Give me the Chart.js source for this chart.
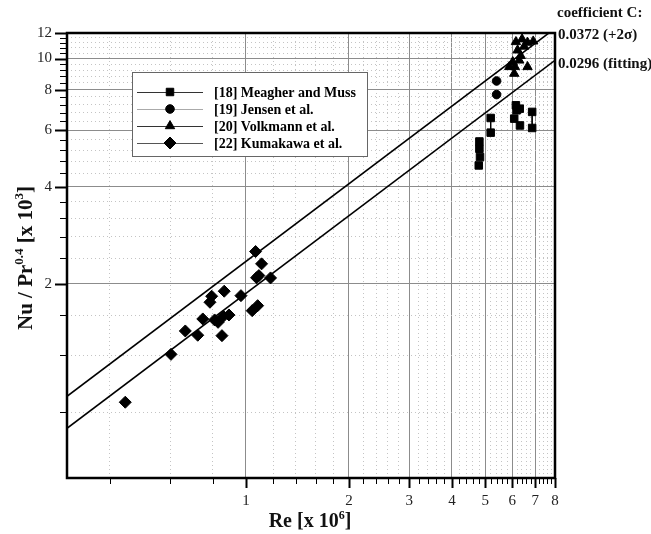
<!DOCTYPE html>
<html>
<head>
<meta charset="utf-8">
<script src="https://cdn.jsdelivr.net/npm/chart.js@4.4.0/dist/chart.umd.min.js"></script>
<style>
  html, body { margin: 0; padding: 0; background: #fff; }
  #wrap { width: 651px; height: 534px; }
</style>
</head>
<body>
<div id="wrap"><canvas id="chart" width="651" height="534"></canvas></div>
<script>
// values: Re in 10^6, Nu/Pr^0.4 in 10^3
const meagherRe = [5.19, 5.19, 4.81, 4.81, 4.83, 4.79, 6.15, 6.18, 6.08, 6.32, 6.86, 6.86, 6.31];
const meagherNu = [6.54, 5.89, 5.53, 5.25, 4.95, 4.66, 7.16, 6.91, 6.51, 6.20, 6.83, 6.09, 6.99];
const jensenRe = [5.40, 5.40];
const jensenNu = [8.52, 7.73];
const volkmannRe = [6.15, 6.41, 6.65, 6.91, 6.22, 6.02, 6.11, 6.08, 6.65, 6.29, 6.50, 5.88, 6.35];
const volkmannNu = [11.26, 11.48, 11.21, 11.31, 10.61, 9.76, 9.42, 8.98, 9.42, 9.87, 10.9, 9.42, 10.2];
const kumakawaRe = [0.444, 0.604, 0.665, 0.723, 0.748, 0.785, 0.794, 0.810, 0.851, 0.864, 0.859, 0.892,
                    0.967, 1.043, 1.082, 1.067, 1.111, 1.091, 1.180, 1.074, 0.829];
const kumakawaNu = [0.859, 1.209, 1.429, 1.386, 1.557, 1.754, 1.831, 1.546, 1.382, 1.898, 1.587, 1.602,
                    1.839, 1.652, 1.712, 2.520, 2.308, 2.122, 2.087, 2.090, 1.520];

// thin connectors between paired squares (null breaks the line)
const connRe = [5.19, 5.19, null, 6.86, 6.86];
const connNu = [6.54, 5.89, null, 6.83, 6.09];

// correlation lines Nu/Pr^0.4 = C Re^0.8, end points
const fitRe = [0.3, 8];
const fitHighNu = [0.896, 12.4];   // C = 0.0372 (+2 sigma)
const fitLowNu = [0.713, 9.87];    // C = 0.0296 (fitting)

const xMajor = [1, 2, 3, 4, 5, 6, 7, 8];
const xMinor = [0.4, 0.6, 0.8, 1.2, 1.4, 1.6, 1.8, 2.2, 2.4, 2.6, 2.8, 3.2, 3.4, 3.6, 3.8,
                4.2, 4.4, 4.6, 4.8, 5.2, 5.4, 5.6, 5.8, 6.2, 6.4, 6.6, 6.8, 7.2, 7.4, 7.6, 7.8];
const yMajor = [2, 4, 6, 8, 10, 12];
const yMinor = [0.8, 1.2, 1.6, 2.4, 2.8, 3.2, 3.6, 4.4, 4.8, 5.2, 5.6, 6.4, 6.8, 7.2, 7.6,
                8.4, 8.8, 9.2, 9.6, 10.4, 10.8, 11.2, 11.6];

const legendLabels = ["[18] Meagher and Muss", "[19] Jensen et al.", "[20] Volkmann et al.", "[22] Kumakawa et al."];

const SERIF = "'Liberation Serif', 'Times New Roman', serif";
Chart.defaults.font.family = SERIF;
Chart.defaults.color = "#222";

function pts(xs, ys) {
  return xs.map((x, i) => (x === null ? { x: NaN, y: NaN } : { x: x, y: ys[i] }));
}

function markerSet(label, xs, ys, style, radius) {
  return {
    label: label,
    data: pts(xs, ys),
    showLine: false,
    pointStyle: style,
    pointRadius: radius,
    pointHoverRadius: radius,
    pointBackgroundColor: "#000",
    pointBorderColor: "#000",
    pointBorderWidth: 1
  };
}

function lineSet(label, xs, ys, width) {
  return {
    label: label,
    data: pts(xs, ys),
    showLine: true,
    spanGaps: false,
    borderColor: "#000",
    borderWidth: width,
    pointRadius: 0,
    fill: false
  };
}

const datasets = [
  lineSet("C = 0.0372", fitRe, fitHighNu, 1.6),
  lineSet("C = 0.0296", fitRe, fitLowNu, 1.6),
  lineSet("pairs", connRe, connNu, 1),
  markerSet(legendLabels[0], meagherRe, meagherNu, "rect", 5.3),
  markerSet(legendLabels[1], jensenRe, jensenNu, "circle", 4.3),
  markerSet(legendLabels[2], volkmannRe, volkmannNu, "triangle", 5.4),
  markerSet(legendLabels[3], kumakawaRe, kumakawaNu, "rectRot", 6)
];

function setTicks(majors, minors) {
  return function(scale) {
    scale.ticks = majors.concat(minors).sort((a, b) => a - b).map(v => ({ value: v }));
  };
}

// draw text with superscript pieces, optionally rotated
function drawRich(ctx, parts, cx, cy, angle, size) {
  const supSize = Math.round(size * 0.6);
  ctx.save();
  ctx.translate(cx, cy);
  ctx.rotate(angle);
  ctx.textBaseline = "alphabetic";
  ctx.textAlign = "left";
  let total = 0;
  parts.forEach(p => {
    ctx.font = "bold " + (p.sup ? supSize : size) + "px " + SERIF;
    p.w = ctx.measureText(p.t).width;
    total += p.w;
  });
  let x = -total / 2;
  parts.forEach(p => {
    ctx.font = "bold " + (p.sup ? supSize : size) + "px " + SERIF;
    ctx.fillText(p.t, x, p.sup ? 7 - size * 0.42 : 7);
    x += p.w;
  });
  ctx.restore();
}

const decorPlugin = {
  id: "decor",
  afterDraw(chart) {
    const ctx = chart.ctx;
    const a = chart.chartArea;
    const xs = chart.scales.x, ys = chart.scales.y;
    ctx.save();
    ctx.strokeStyle = "#000";

    // tick marks
    xs.ticks.forEach(t => {
      const px = Math.round(xs.getPixelForValue(t.value)) + 0.5;
      const major = xMajor.includes(t.value);
      ctx.lineWidth = major ? 2 : 1;
      ctx.beginPath();
      ctx.moveTo(px, a.bottom);
      ctx.lineTo(px, a.bottom + (major ? 10 : 6));
      ctx.stroke();
    });
    ys.ticks.forEach(t => {
      const py = Math.round(ys.getPixelForValue(t.value)) + 0.5;
      const major = yMajor.includes(t.value);
      ctx.lineWidth = major ? 2 : 1;
      ctx.beginPath();
      ctx.moveTo(a.left, py);
      ctx.lineTo(a.left - (major ? 12 : 7), py);
      ctx.stroke();
    });

    // frame
    ctx.lineWidth = 2.5;
    ctx.strokeRect(a.left, a.top, a.right - a.left, a.bottom - a.top);

    // legend box
    ctx.fillStyle = "#fff";
    ctx.fillRect(132, 72, 235, 84);
    ctx.lineWidth = 1;
    ctx.strokeStyle = "#666";
    ctx.strokeRect(132.5, 72.5, 235, 84);
    const rows = [92, 109, 126, 143];
    const lineCols = ["#333", "#aaa", "#333", "#555"];
    const markers = datasets.slice(3);
    rows.forEach((ry, i) => {
      ctx.strokeStyle = lineCols[i];
      ctx.lineWidth = 1;
      ctx.beginPath();
      ctx.moveTo(137, ry + 0.5);
      ctx.lineTo(203, ry + 0.5);
      ctx.stroke();
      ctx.fillStyle = "#000";
      ctx.strokeStyle = "#000";
      Chart.helpers.drawPoint(ctx, {
        pointStyle: markers[i].pointStyle,
        radius: markers[i].pointRadius,
        rotation: 0,
        borderWidth: 1
      }, 170, ry);
      ctx.font = "bold 14px " + SERIF;
      ctx.textAlign = "left";
      ctx.textBaseline = "middle";
      ctx.fillText(legendLabels[i], 214, ry + 1);
    });

    // coefficient notes
    ctx.fillStyle = "#111";
    ctx.font = "bold 15px " + SERIF;
    ctx.textBaseline = "middle";
    ctx.fillText("coefficient C:", 557, 13);
    ctx.fillText("0.0372 (+2\u03c3)", 558, 35);
    ctx.fillText("0.0296 (fitting)", 558, 64);

    // axis titles
    ctx.fillStyle = "#111";
    drawRich(ctx, [{ t: "Re [x 10" }, { t: "6", sup: true }, { t: "]" }], 310, 520, 0, 20);
    drawRich(ctx, [{ t: "Nu / Pr" }, { t: "0.4", sup: true }, { t: " [x 10" }, { t: "3", sup: true }, { t: "]" }],
      25, 258, -Math.PI / 2, 21);
    ctx.restore();
  }
};

new Chart(document.getElementById("chart"), {
  type: "scatter",
  data: { datasets: datasets },
  plugins: [decorPlugin],
  options: {
    responsive: false,
    animation: false,
    devicePixelRatio: 1,
    layout: { padding: { left: 0, right: 96, top: 33, bottom: 0 } },
    plugins: {
      legend: { display: false },
      tooltip: { enabled: false }
    },
    scales: {
      x: {
        type: "logarithmic",
        min: 0.3,
        max: 8,
        afterBuildTicks: setTicks(xMajor, xMinor),
        afterFit: s => { s.height = 56; },
        ticks: {
          autoSkip: false,
          maxRotation: 0,
          padding: 14,
          font: { size: 15 },
          color: "#222",
          callback: v => (xMajor.includes(v) ? String(v) : "")
        },
        grid: {
          drawTicks: false,
          color: c => (c.tick && xMajor.includes(c.tick.value) ? "#8c8c8c" : "#c4c4c4"),
          lineWidth: 1
        },
        border: {
          display: false,
          dash: c => (c.tick && xMajor.includes(c.tick.value) ? [] : [1, 3])
        }
      },
      y: {
        type: "logarithmic",
        min: 0.5,
        max: 12,
        afterBuildTicks: setTicks(yMajor, yMinor),
        afterFit: s => { s.width = 67; },
        ticks: {
          autoSkip: false,
          padding: 15,
          font: { size: 15 },
          color: "#222",
          callback: v => (yMajor.includes(v) ? String(v) : "")
        },
        grid: {
          drawTicks: false,
          color: c => (c.tick && yMajor.includes(c.tick.value) ? "#8c8c8c" : "#c4c4c4"),
          lineWidth: 1
        },
        border: {
          display: false,
          dash: c => (c.tick && yMajor.includes(c.tick.value) ? [] : [1, 3])
        }
      }
    }
  }
});
</script>
</body>
</html>
